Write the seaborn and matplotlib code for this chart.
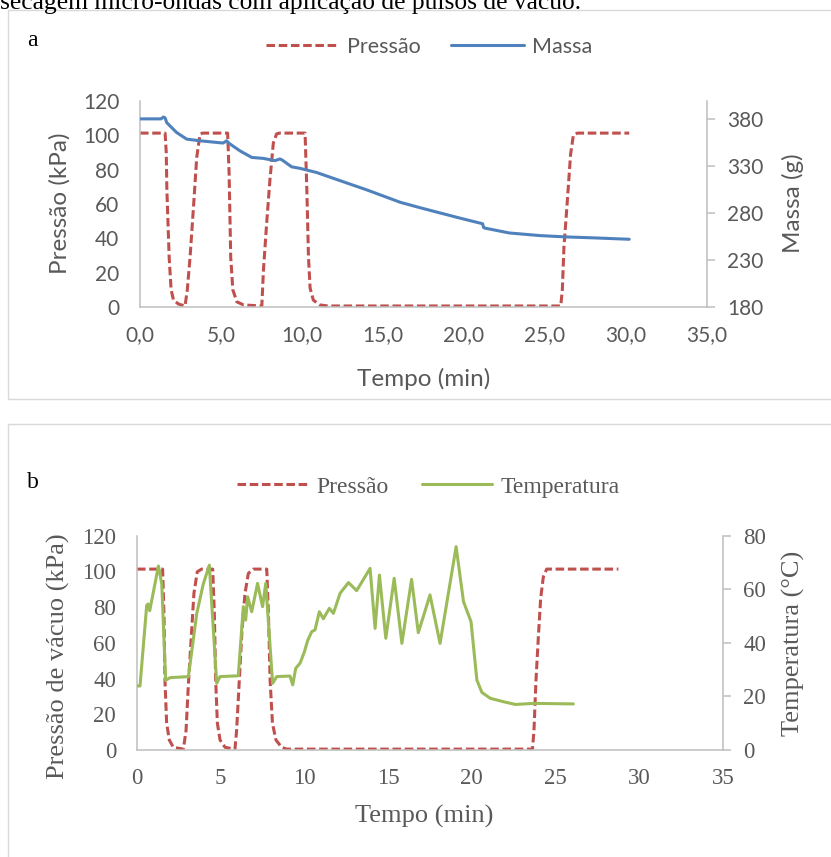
import numpy as np
import pandas as pd
import matplotlib
matplotlib.use("Agg")
import matplotlib.pyplot as plt
import seaborn as sns
from matplotlib.patches import Rectangle
from matplotlib.lines import Line2D

# ---------------- data: panel a ----------------
t_press_a = [0, 1.55, 1.62, 1.66, 1.8, 1.92, 2.07, 2.38, 2.78, 2.92, 3.09, 3.3, 3.5, 3.7, 3.85,
             5.41, 5.5, 5.6, 5.73, 5.98, 6.39, 7.52, 7.62, 7.82, 8.02, 8.23, 8.43, 8.6,
             10.19, 10.3, 10.4, 10.5, 10.7, 11.1, 11.6, 25.97, 26.07, 26.17, 26.38, 26.58,
             26.75, 26.99, 30.2]
press_a = [101.3, 101.3, 90, 68, 29, 10, 4, 1.7, 0.6, 10, 29, 58, 87, 100.5, 101.3,
           101.3, 78, 29, 10, 3, 1.2, 0.6, 21.5, 49, 74, 95.5, 100.8, 101.3,
           101.3, 68, 29, 11, 4, 1.2, 0.6, 0.6, 10, 35, 62, 89,
           100, 101.3, 101.3]

t_mass_a = [0, 1.3, 1.45, 1.55, 1.65, 2.26, 2.88, 3.7, 5.13, 5.35, 5.5, 6.17, 6.9, 7.6, 8.33,
            8.64, 8.8, 9.36, 9.88, 10.9, 11.9, 14.0, 16.05, 17.3, 18.1, 19.75, 21.15, 21.2,
            21.25, 22.8, 24.7, 26.3, 28.0, 30.2]
mass_a = [380, 380, 382, 381, 376, 365.5, 358.5, 356.7, 354.3, 356.7, 354, 346, 339, 338, 335.6,
          337.4, 336, 329, 327.4, 323, 317, 304.5, 291.4, 285.5, 281.9, 274.5, 268.5, 265,
          264, 258.7, 255.9, 254.5, 253.5, 252]

# ---------------- data: panel b ----------------
t_press_b = [0, 1.53, 1.61, 1.67, 1.77, 1.93, 2.17, 2.77, 2.93, 3.07, 3.23, 3.4, 3.6, 3.86,
             4.52, 4.62, 4.7, 4.8, 4.96, 5.26, 5.85, 5.95, 6.11, 6.27, 6.45, 6.65, 6.95,
             7.75, 7.85, 7.95, 8.09, 8.3, 8.64, 8.94, 23.62, 23.71, 23.83, 23.97, 24.11,
             24.27, 24.47, 28.75]
press_b = [101.3, 101.3, 76.5, 39, 15, 5.6, 1.5, 0.5, 11, 37, 61.6, 87.7, 99.8, 101.3,
           101.3, 76.5, 39, 15, 5.6, 1.5, 0.5, 11, 39, 67, 87.7, 98.9, 101.3,
           101.3, 76.5, 39, 15, 5.6, 1.5, 0.5, 0.5, 11, 39, 63, 85,
           97, 101.3, 101.3]

t_temp_b = [0, 0.18, 0.58, 0.66, 0.76, 1.28, 1.48, 1.71, 1.97, 3.07, 3.57, 3.96, 4.32, 4.76,
            4.96, 6.05, 6.35, 6.49, 6.61, 6.85, 7.2, 7.5, 7.69, 8.1, 8.34, 9.14, 9.3, 9.48,
            9.74, 10.0, 10.2, 10.44, 10.63, 10.89, 11.13, 11.49, 11.73, 12.13, 12.63, 13.12,
            13.92, 14.22, 14.48, 14.86, 15.36, 15.82, 16.4, 16.8, 17.1, 17.5, 18.1, 19.06,
            19.5, 19.95, 20.3, 20.6, 21.1, 21.9, 22.6, 23.7, 26.06]
temp_b = [23.9, 23.9, 54, 54.5, 52, 68.7, 62, 26, 27, 27.4, 51, 62, 69, 24.9,
          27.4, 27.7, 53.5, 48.5, 57.2, 51.6, 62.2, 53.5, 62.2, 24.9, 27.4, 27.6, 24.3, 30.5,
          32.4, 36.7, 41, 44.2, 44.8, 51.6, 49, 52.9, 51, 58.5, 62.5, 59.5,
          67.8, 45.4, 65.3, 41.7, 64.1, 39.8, 63.7, 43.8, 49.8, 57.9, 39.8, 75.9,
          55.4, 47.9, 26.1, 21.5, 19.3, 18, 17, 17.4, 17.2]

xticks_a = [0, 5, 10, 15, 20, 25, 30, 35]
xticklabels_a = ["0,0", "5,0", "10,0", "15,0", "20,0", "25,0", "30,0", "35,0"]
yticks_press = [0, 20, 40, 60, 80, 100, 120]
yticks_mass = [180, 230, 280, 330, 380]
xticks_b = [0, 5, 10, 15, 20, 25, 30, 35]
yticks_temp = [0, 20, 40, 60, 80]

# ---------------- style ----------------
sns.set_theme(style="white")
RED = "#C0504D"
BLUE = "#4F81BD"
GREEN = "#9BBB59"
AXC = "#BFBFBF"
TXT = "#595959"
SANS = ["Lato", "DejaVu Sans"]
SERIF = ["Liberation Serif", "DejaVu Serif"]
DASH = (0, (2.8, 1.2))
LW = 2.2

fig = plt.figure(figsize=(8.31, 8.57), dpi=100)
W, H = 831, 857

# panel frames
fig.add_artist(Rectangle((8 / W, 1 - 399 / H), 1.2, 389 / H, transform=fig.transFigure,
                         fill=False, edgecolor="#D9D9D9", lw=1.0))
fig.add_artist(Rectangle((8 / W, -0.2), 1.2, 0.2 + 1 - 424 / H, transform=fig.transFigure,
                         fill=False, edgecolor="#D9D9D9", lw=1.0))

# clipped caption at the top
fig.text(0.0, 1 - 9 / H, "secagem micro-ondas com aplicação de pulsos de vácuo.",
         family=SERIF, fontsize=18.4, color="black", ha="left", va="baseline")


def style_axes(ax, ax2, font, tick_fs):
    for a in (ax, ax2):
        a.spines["top"].set_visible(False)
        for s in ("left", "right", "bottom"):
            a.spines[s].set_color(AXC)
            a.spines[s].set_linewidth(1.1)
    ax.spines["right"].set_visible(False)
    ax2.spines["left"].set_visible(False)
    ax2.spines["bottom"].set_visible(False)
    ax.tick_params(axis="y", length=0, pad=15, labelsize=tick_fs, labelcolor=TXT)
    ax.tick_params(axis="x", length=0, pad=13, labelsize=tick_fs, labelcolor=TXT)
    ax2.tick_params(axis="y", length=5.5, width=1.1, color=AXC, direction="out", pad=9,
                    labelsize=tick_fs, labelcolor=TXT)
    for lab in ax.get_xticklabels() + ax.get_yticklabels() + ax2.get_yticklabels():
        lab.set_family(font)


# ---------------- panel a ----------------
axa = fig.add_axes([140 / W, 1 - 307 / H, 567 / W, 206 / H])
axa2 = axa.twinx()
sns.lineplot(x=t_press_a, y=press_a, ax=axa, color=RED, lw=LW, linestyle=DASH,
             estimator=None, sort=False, legend=False)
sns.lineplot(x=t_mass_a, y=mass_a, ax=axa2, color=BLUE, lw=LW,
             estimator=None, sort=False, legend=False)
axa.set_xlim(0, 35)
axa.set_ylim(0, 120)
axa2.set_ylim(180, 399)
axa.set_xticks(xticks_a)
axa.set_xticklabels(xticklabels_a)
axa.set_yticks(yticks_press)
axa2.set_yticks(yticks_mass)
style_axes(axa, axa2, SANS, 15)
axa.set_xlabel("Tempo (min)", family=SANS, fontsize=17.5, color=TXT)
axa.set_ylabel("Pressão (kPa)", family=SANS, fontsize=17.5, color=TXT)
axa2.set_ylabel("Massa (g)", family=SANS, fontsize=17.5, color=TXT)
axa.xaxis.set_label_coords((424 - 140) / 567, (307 - 379) / 206)
axa.xaxis.label.set_va("center")
axa.yaxis.set_label_coords((60 - 140) / 567, (307 - 203) / 206)
axa.yaxis.label.set_va("center")
axa2.yaxis.set_label_coords((793 - 140) / 567, (307 - 203) / 206)
axa2.yaxis.label.set_va("center")
axa2.yaxis.label.set_rotation(90)

ha = [Line2D([], [], color=RED, lw=LW, linestyle=DASH), Line2D([], [], color=BLUE, lw=LW)]
fig.legend(ha, ["Pressão", "Massa"], loc="center", bbox_to_anchor=(429 / W, 1 - 47 / H),
           ncol=2, frameon=False, handlelength=3.4, handletextpad=0.35, columnspacing=1.4,
           prop={"family": SANS, "size": 15.5}, labelcolor=TXT)
fig.text(27 / W, 1 - 40 / H, "a", family=SERIF, fontsize=17, color="black", ha="left", va="center")

# ---------------- panel b ----------------
axb = fig.add_axes([137 / W, 1 - 750 / H, 586 / W, 214.3 / H])
axb2 = axb.twinx()
sns.lineplot(x=t_press_b, y=press_b, ax=axb, color=RED, lw=LW, linestyle=DASH,
             estimator=None, sort=False, legend=False)
sns.lineplot(x=t_temp_b, y=temp_b, ax=axb2, color=GREEN, lw=LW,
             estimator=None, sort=False, legend=False)
axb.set_xlim(0, 35)
axb.set_ylim(0, 120)
axb2.set_ylim(0, 80)
axb.set_xticks(xticks_b)
axb.set_yticks(yticks_press)
axb2.set_yticks(yticks_temp)
style_axes(axb, axb2, SERIF, 16.5)
axb.set_xlabel("Tempo (min)", family=SERIF, fontsize=19, color=TXT)
axb.set_ylabel("Pressão de vácuo (kPa)", family=SERIF, fontsize=19, color=TXT)
axb2.set_ylabel("Temperatura (°C)", family=SERIF, fontsize=19, color=TXT)
axb.xaxis.set_label_coords((424 - 137) / 586, (750 - 816) / 214.3)
axb.xaxis.label.set_va("center")
axb.yaxis.set_label_coords((58 - 137) / 586, (750 - 656) / 214.3)
axb.yaxis.label.set_va("center")
axb2.yaxis.set_label_coords((793 - 137) / 586, (750 - 643) / 214.3)
axb2.yaxis.label.set_va("center")
axb2.yaxis.label.set_rotation(90)

hb = [Line2D([], [], color=RED, lw=LW, linestyle=DASH), Line2D([], [], color=GREEN, lw=LW)]
fig.legend(hb, ["Pressão", "Temperatura"], loc="center", bbox_to_anchor=(428.5 / W, 1 - 487 / H),
           ncol=2, frameon=False, handlelength=3.0, handletextpad=0.35, columnspacing=1.4,
           prop={"family": SERIF, "size": 17}, labelcolor=TXT)
fig.text(27 / W, 1 - 482 / H, "b", family=SERIF, fontsize=17, color="black", ha="left", va="center")

fig.savefig("out.png", dpi=100)
